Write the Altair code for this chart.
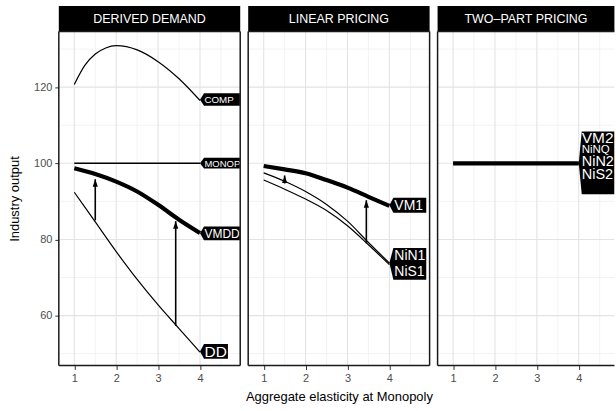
import altair as alt
import pandas as pd

FONT = "Liberation Sans"

# ---------------- data ----------------
PANELS = ["DERIVED DEMAND", "LINEAR PRICING", "TWO\u2013PART PRICING"]

X = [1, 1.5, 2, 2.5, 3, 3.5, 4]
X_COMP = [1, 1.25, 1.5, 1.75, 2, 2.5, 3, 3.5, 4]

COMP = [120.7, 125.7, 128.7, 130.3, 130.9, 129.8, 126.7, 122.2, 116.5]
MONOP = [100, 100, 100, 100, 100, 100, 100]
VMDD = [98.7, 97.2, 95.2, 92.6, 89.1, 85.2, 81.7]
DD = [92.4, 84.6, 76.8, 69.5, 62.8, 56.6, 50.4]

VM1 = [99.3, 98.4, 97.4, 95.6, 93.6, 91.2, 88.8]
NIN1 = [97.5, 95.3, 92.6, 89.2, 84.8, 79.2, 73.8]
NIS1 = [95.6, 93.2, 90.6, 87.6, 83.6, 78.6, 73.4]

VM2 = [100, 100, 100, 100, 100, 100, 100]
NINQ = [100, 100, 100, 100, 100, 100, 100]
NIN2 = [100, 100, 100, 100, 100, 100, 100]
NIS2 = [100, 100, 100, 100, 100, 100, 100]

ARROW_PANEL = [PANELS[0], PANELS[0], PANELS[1], PANELS[1]]
ARROW_X = [1.5, 3.42, 1.5, 3.45]
ARROW_FROM = [85.0, 57.3, 94.7, 79.0]
ARROW_TO = [95.8, 84.8, 96.8, 90.3]

BOX_PANEL = [PANELS[0], PANELS[0], PANELS[0], PANELS[0], PANELS[1], PANELS[1], PANELS[2]]
BOX_NAME = ["COMP", "MONOP", "VMDD", "DD", "VM1", "NiN1/NiS1", "PANEL3"]
BOX_X = [4, 4, 4, 4, 4, 4, 4]
BOX_Y = [116.7, 100, 81.6, 50.6, 89.0, 73.8, 100]

TEXT_PANEL = [PANELS[0], PANELS[0], PANELS[0], PANELS[0], PANELS[1], PANELS[1], PANELS[1],
              PANELS[2], PANELS[2], PANELS[2], PANELS[2]]
TEXT = ["COMP", "MONOP", "VMDD", "DD", "VM1", "NiN1", "NiS1", "VM2", "NiNQ", "NiN2", "NiS2"]
TEXT_X = [4, 4, 4, 4, 4, 4, 4, 4, 4, 4, 4]
TEXT_Y = [116.7, 100, 81.6, 50.6, 89.0, 73.8, 73.8, 100, 100, 100, 100]

MAJOR_X = [1, 2, 3, 4]
MINOR_X = [1.5, 2.5, 3.5, 4.5]
MAJOR_Y = [60, 80, 100, 120]
MINOR_Y = [50, 70, 90, 110, 130]

# ---------------- styles ----------------
WIDTHS = {"COMP": 1.2, "MONOP": 1.4, "VMDD": 4.2, "DD": 1.2,
          "VM1": 4.2, "NiN1": 1.2, "NiS1": 1.2,
          "NiNQ": 1.2, "NiN2": 1.2, "NiS2": 1.2, "VM2": 4.2}
# box: top, bottom, corner offset, right (pixels relative to the tip)
BOX_STYLE = {"COMP": (-6.5, 6, 4, 40), "MONOP": (-5.5, 5.2, 4, 40),
             "VMDD": (-7, 7, 4, 40), "DD": (-7.5, 7.5, 4, 28),
             "VM1": (-7.5, 7.5, 4, 37), "NiN1/NiS1": (-15.2, 16.8, 4, 37),
             "PANEL3": (-32, 31, 3, 36)}
# text: dx, dy, font size
TEXT_STYLE = {"COMP": (4.5, 0.5, 9.8), "MONOP": (4.5, 0.5, 9.5), "VMDD": (4.5, 0.5, 12),
              "DD": (4.5, 0.5, 15.5), "VM1": (5, 0.5, 14), "NiN1": (5, -7, 14),
              "NiS1": (5, 9, 14), "VM2": (3, -25, 15.5), "NiNQ": (3, -13, 11.5),
              "NiN2": (3, -1, 14.5), "NiS2": (3, 11.5, 14.5)}

W = [182, 182, 177.4]
H = 335
XDOM = [[0.63, 4.96], [0.63, 4.96], [0.63, 4.851]]
YDOM = [46.9, 134.6]
ARROW_PATH = "M0,0 L2.6,7.5 L-2.6,7.5 Z"
BORDER = "#1a1a1a"

# ---------------- tables ----------------
series = [
    (PANELS[0], "COMP", X_COMP, COMP), (PANELS[0], "MONOP", X, MONOP),
    (PANELS[0], "VMDD", X, VMDD), (PANELS[0], "DD", X, DD),
    (PANELS[1], "VM1", X, VM1), (PANELS[1], "NiN1", X, NIN1), (PANELS[1], "NiS1", X, NIS1),
    (PANELS[2], "NiNQ", X, NINQ), (PANELS[2], "NiN2", X, NIN2), (PANELS[2], "NiS2", X, NIS2),
    (PANELS[2], "VM2", X, VM2),
]
rows = []
for p, s, xs, ys in series:
    for xv, yv in zip(xs, ys):
        rows.append({"panel": p, "series": s, "x": xv, "y": yv, "w": WIDTHS[s]})
lines_df = pd.DataFrame(rows)

arrows_df = pd.DataFrame({"panel": ARROW_PANEL, "x": ARROW_X, "y": ARROW_FROM, "y2": ARROW_TO})
heads_df = pd.DataFrame({"panel": ARROW_PANEL, "x": ARROW_X, "y": ARROW_TO})


def box_path(name):
    t, b, c, r = BOX_STYLE[name]
    return f"M0,0 L{c},{t} L{r},{t} L{r},{b} L{c},{b} Z"


boxes_df = pd.DataFrame({"panel": BOX_PANEL, "name": BOX_NAME, "x": BOX_X, "y": BOX_Y})
boxes_df["path"] = [box_path(n) for n in BOX_NAME]
texts_df = pd.DataFrame({"panel": TEXT_PANEL, "text": TEXT, "x": TEXT_X, "y": TEXT_Y})

yscale = alt.Scale(domain=YDOM, nice=False, zero=False)


def make_panel(idx):
    name = PANELS[idx]
    w = W[idx]
    xscale = alt.Scale(domain=XDOM[idx], nice=False, zero=False)
    xaxis = alt.Axis(values=MAJOR_X, grid=False, domain=False, ticks=True, tickSize=4,
                     tickColor="#333333", tickWidth=1, labelColor="#4d4d4d", labelFontSize=11,
                     labelPadding=3, labelFont=FONT, titleFont=FONT, titleFontSize=13,
                     titleFontWeight="normal", titleColor="black", titlePadding=7)
    if idx == 1:
        xenc = alt.X("x:Q", scale=xscale, axis=xaxis, title="Aggregate elasticity at Monopoly")
    else:
        xenc = alt.X("x:Q", scale=xscale, axis=xaxis, title=None)
    if idx == 0:
        yaxis = alt.Axis(values=MAJOR_Y, grid=False, domain=False, tickSize=4, tickColor="#333333",
                         labelColor="#4d4d4d", labelFontSize=11, labelPadding=3, labelFont=FONT,
                         titleFont=FONT, titleFontSize=13, titleFontWeight="normal",
                         titleColor="black", titlePadding=12)
        yenc = alt.Y("y:Q", scale=yscale, axis=yaxis, title="Industry output")
    else:
        yenc = alt.Y("y:Q", scale=yscale, axis=None)

    minor_x = alt.Chart(pd.DataFrame({"x": MINOR_X})).mark_rule(
        color="#ebebeb", strokeWidth=0.6, clip=True).encode(x=xenc)
    minor_y = alt.Chart(pd.DataFrame({"y": MINOR_Y})).mark_rule(
        color="#ebebeb", strokeWidth=0.6).encode(y=yenc)
    major_x = alt.Chart(pd.DataFrame({"x": MAJOR_X})).mark_rule(
        color="#e3e3e3", strokeWidth=1.1).encode(x=xenc)
    major_y = alt.Chart(pd.DataFrame({"y": MAJOR_Y})).mark_rule(
        color="#e3e3e3", strokeWidth=1.1).encode(y=yenc)

    ldf = lines_df[lines_df.panel == name]
    lines = alt.Chart(ldf).mark_line(interpolate="monotone", color="black", clip=True).encode(
        x=xenc, y=yenc, detail="series:N",
        strokeWidth=alt.StrokeWidth("w:Q", scale=None), order=alt.Order("x:Q"))

    layers = [minor_x, minor_y, major_x, major_y, lines]

    adf = arrows_df[arrows_df.panel == name]
    hdf = heads_df[heads_df.panel == name]
    if len(adf):
        shafts = alt.Chart(adf).mark_rule(color="black", strokeWidth=1.6).encode(
            x=xenc, y=yenc, y2="y2:Q")
        heads = alt.Chart(hdf).mark_point(shape=ARROW_PATH, size=4, filled=True, color="black",
                                          opacity=1, strokeWidth=0).encode(x=xenc, y=yenc)
        layers += [shafts, heads]

    bdf = boxes_df[boxes_df.panel == name]
    boxes = alt.Chart(bdf).mark_point(size=4, filled=True, color="black", opacity=1,
                                      strokeWidth=0, clip=True).encode(
        x=xenc, y=yenc, shape=alt.Shape("path:N", scale=None))
    layers.append(boxes)

    tdf = texts_df[texts_df.panel == name]
    for t in tdf.text:
        dx, dy, fs = TEXT_STYLE[t]
        layers.append(
            alt.Chart(tdf[tdf.text == t]).mark_text(
                align="left", baseline="middle", dx=dx, dy=dy, fontSize=fs, color="white",
                font=FONT, clip=True).encode(x=xenc, y=yenc, text="text:N"))

    one = pd.DataFrame({"t": [name]})
    strip = alt.Chart(one).mark_rect(color="black").encode(
        x=alt.value(0), x2=alt.value(w), y=alt.value(-25.7), y2=alt.value(0))
    strip_text = alt.Chart(one).mark_text(
        color="white", fontSize=12.5, font=FONT, baseline="middle", align="center").encode(
        x=alt.value(w / 2), y=alt.value(-12.3), text="t:N")
    b_left = alt.Chart(one).mark_rule(color=BORDER, strokeWidth=1.5).encode(
        x=alt.value(0), y=alt.value(0), y2=alt.value(H))
    b_bottom = alt.Chart(one).mark_rule(color=BORDER, strokeWidth=1.5).encode(
        x=alt.value(0), x2=alt.value(w), y=alt.value(H))
    b_top = alt.Chart(one).mark_rule(color=BORDER, strokeWidth=1.5).encode(
        x=alt.value(0), x2=alt.value(w), y=alt.value(0))
    layers += [strip, strip_text, b_left, b_bottom, b_top]
    if idx < 2:
        b_right = alt.Chart(one).mark_rule(color=BORDER, strokeWidth=1.5).encode(
            x=alt.value(w), y=alt.value(0), y2=alt.value(H))
        layers.append(b_right)

    return alt.layer(*layers).properties(width=w, height=H)


chart = alt.hconcat(make_panel(0), make_panel(1), make_panel(2), spacing=8,
                    bounds="flush").properties(
    padding={"left": 8, "top": 5, "right": 0, "bottom": 5},
    background="white",
).configure_view(strokeWidth=0)

chart.save("out.html", embed_options={"renderer": "svg", "actions": False})
